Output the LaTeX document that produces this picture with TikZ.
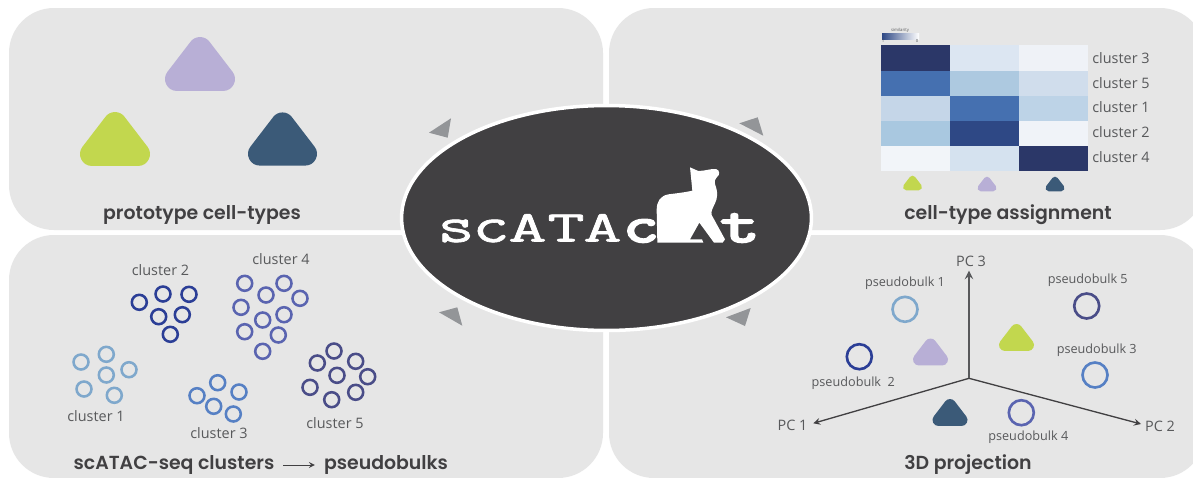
\documentclass[tikz,border=0pt]{standalone}
\usepackage{fontspec}
\usepackage{graphicx}
\usetikzlibrary{shapes.geometric}
\newfontfamily\labelfont{Open Sans}
\newfontfamily\titlefont{Poppins SemiBold}
\newfontfamily\logolight{Latin Modern Mono}[FakeBold=1.2]
\newfontfamily\logoheavy{Latin Modern Mono}[FakeBold=4]
\definecolor{panelgray}{HTML}{E6E6E6}
\definecolor{hubdark}{HTML}{414042}
\definecolor{labelgray}{HTML}{58595B}
\definecolor{wedgegray}{HTML}{939598}
\definecolor{protolilac}{HTML}{B8AFD6}
\definecolor{protogreen}{HTML}{C2D74E}
\definecolor{protoblue}{HTML}{3B5A78}
\definecolor{clusterone}{HTML}{7FA8CC}
\definecolor{clustertwo}{HTML}{2B3E96}
\definecolor{clusterthree}{HTML}{5680C4}
\definecolor{clusterfour}{HTML}{5A64B0}
\definecolor{clusterfive}{HTML}{4A4D88}
\definecolor{simA}{HTML}{2B3768}
\definecolor{simB}{HTML}{DCE6F2}
\definecolor{simC}{HTML}{EFF2F7}
\definecolor{simD}{HTML}{4570B0}
\definecolor{simE}{HTML}{ADC9E0}
\definecolor{simF}{HTML}{D0DDEC}
\definecolor{simG}{HTML}{C5D6E8}
\definecolor{simH}{HTML}{BDD3E7}
\definecolor{simI}{HTML}{A9C8E0}
\definecolor{simJ}{HTML}{2E4885}
\definecolor{simK}{HTML}{F0F3F8}
\definecolor{simL}{HTML}{F2F5F9}
\definecolor{simM}{HTML}{D5E2EF}
\tikzset{
  panel/.style={fill=panelgray,rounded corners=0.9cm},
  hub/.style={ellipse,draw=white,fill=hubdark,line width=2pt,inner sep=0pt,
    minimum width=8.2cm,minimum height=4.5cm},
  wedge/.style={fill=wedgegray},
  paneltitle/.style={font=\titlefont\fontsize{10.75}{12}\selectfont,text=hubdark,inner sep=0pt},
  clusterlabel/.style={font=\labelfont\fontsize{8.2}{9}\selectfont,text=labelgray,inner sep=0pt},
  bulklabel/.style={font=\labelfont\fontsize{7.2}{8}\selectfont,text=labelgray,inner sep=0pt},
  cellring/.style={circle,line width=1.45pt,minimum size=0.3cm,inner sep=0pt},
  bulkring/.style={circle,line width=1.5pt,minimum size=0.5cm,inner sep=0pt},
  logochar/.style={anchor=base,text=white,inner sep=0pt},
}
% rounded triangle: centre x, centre y, width in pixels, colour
\newcommand{\prototype}[4]{%
  \filldraw[#4,line join=round,line width=#3*0.0068cm]
    (#1-0.33*#3,#2+0.215*#3) -- (#1+0.33*#3,#2+0.215*#3) -- (#1,#2-0.215*#3) -- cycle;}
\begin{document}
\begin{tikzpicture}[x=0.02cm,y=-0.02cm,>=stealth]
  \fill[white] (0,0) rectangle (1193,477);
  \clip (0,0) rectangle (1193,477);
  % Panels
  \fill[panel] (9,8) rectangle (603,230);
  \fill[panel] (609,8) rectangle (1205,230);
  \fill[panel] (9,235) rectangle (603,478);
  \fill[panel] (609,235) rectangle (1205,478);
  % Prototype cell-types
  \prototype{200}{64}{70}{protolilac}
  \prototype{115}{139}{70}{protogreen}
  \prototype{282.5}{139}{69}{protoblue}
  \node[paneltitle] (prototitle) at (202,215) {prototype cell-types};
  % Heatmap
  \foreach \ya/\yb/\shadeA/\shadeB/\shadeC in {45/70.5/simA/simB/simC,71/96/simD/simE/simF,96/121/simG/simD/simH,121/146/simI/simJ/simK,146/171/simL/simM/simA} {
    \fill[\shadeA] (880.5,\ya) rectangle (949.5,\yb);
    \fill[\shadeB] (949.5,\ya) rectangle (1019,\yb);
    \fill[\shadeC] (1019,\ya) rectangle (1088,\yb);
  }
  \foreach \name/\ypos in {3/58,5/83,1/107.5,2/132.5,4/157} {
    \node[clusterlabel,anchor=west] (row\name) at (1092,\ypos) {cluster \name};
  }
  \shade[left color=simJ,right color=white] (882,33) rectangle (919,39);
  \node[inner sep=0pt,text=labelgray,font=\labelfont\fontsize{2.4}{3}\selectfont] (simtitle) at (900,30.5) {similarity};
  \node[inner sep=0pt,text=labelgray,font=\labelfont\fontsize{2.4}{3}\selectfont] (simhigh) at (883,41) {1};
  \node[inner sep=0pt,text=labelgray,font=\labelfont\fontsize{2.4}{3}\selectfont] (simlow) at (917,41) {0};
  \prototype{912.5}{183}{19}{protogreen}
  \prototype{987}{184}{19}{protolilac}
  \prototype{1055}{184}{19}{protoblue}
  \node[paneltitle] (assigntitle) at (1008,215) {cell-type assignment};
  % Clusters
  \foreach \cx/\cy [count=\i] in {81/362,106.3/354.3,129/369.7,106.3/375,84/389,114.3/395.3} {
    \node[cellring,draw=clusterone] (one\i) at (\cx,\cy) {};
  }
  \foreach \cx/\cy [count=\i] in {139.3/302.3,163/294,189/294.3,158.7/316.7,182.3/314.7,170.3/334.3} {
    \node[cellring,draw=clustertwo] (two\i) at (\cx,\cy) {};
  }
  \foreach \cx/\cy [count=\i] in {217.7/382.7,239/392,197/395.7,213.7/406.3,233.3/414} {
    \node[cellring,draw=clusterthree] (three\i) at (\cx,\cy) {};
  }
  \foreach \cx/\cy [count=\i] in {244.7/283.3,284/283.3,266/295,300/298.3,241/307.3,262.7/320,284/314.7,244.7/331.7,278.3/335,262.7/351.3} {
    \node[cellring,draw=clusterfour] (four\i) at (\cx,\cy) {};
  }
  \foreach \cx/\cy [count=\i] in {334/351,317.3/363,355.7/361.3,337/375.3,367.7/376.7,310/387.3,355.7/392.3,331.7/399.7} {
    \node[cellring,draw=clusterfive] (five\i) at (\cx,\cy) {};
  }
  \node[clusterlabel] (labelone) at (96,416) {cluster 1};
  \node[clusterlabel] (labeltwo) at (160.5,270.5) {cluster 2};
  \node[clusterlabel] (labelthree) at (219,433) {cluster 3};
  \node[clusterlabel] (labelfour) at (281,259.5) {cluster 4};
  \node[clusterlabel] (labelfive) at (335,423) {cluster 5};
  \node[paneltitle] (clustertitle) at (174,465) {scATAC-seq clusters};
  \node[paneltitle] (bulktitle) at (386,465) {pseudobulks};
  \draw[->,hubdark,line width=0.5pt,shorten <=5pt,shorten >=5pt] (clustertitle) -- (bulktitle);
  % 3D projection
  \coordinate (origin) at (969,378.3);
  \coordinate (tipone) at (813.3,423.3);
  \coordinate (tiptwo) at (1141,424);
  \coordinate (tipthree) at (969,270.7);
  \draw[->,hubdark,line width=0.75pt] (origin) -- (tipone);
  \draw[->,hubdark,line width=0.75pt] (origin) -- (tiptwo);
  \draw[->,labelgray,line width=1.1pt] (origin) -- (tipthree);
  \node[clusterlabel] (pcone) at (792.5,425.5) {PC 1};
  \node[clusterlabel] (pctwo) at (1160,426.5) {PC 2};
  \node[clusterlabel] (pcthree) at (971,261) {PC 3};
  \prototype{930.5}{352}{35}{protolilac}
  \prototype{1016.5}{337.5}{35}{protogreen}
  \prototype{950}{412.5}{35}{protoblue}
  \node[bulkring,draw=clusterone] (bulkone) at (905,309.3) {};
  \node[bulkring,draw=clustertwo] (bulktwo) at (859.3,356.7) {};
  \node[bulkring,draw=clusterthree] (bulkthree) at (1095,375) {};
  \node[bulkring,draw=clusterfour] (bulkfour) at (1021.3,412.7) {};
  \node[bulkring,draw=clusterfive] (bulkfive) at (1086.7,306) {};
  \node[bulklabel] (namedone) at (905,283.3) {pseudobulk 1};
  \node[bulklabel] (namedtwo) at (853.3,383.7) {pseudobulk\ \ 2};
  \node[bulklabel] (namedthree) at (1096.7,350) {pseudobulk 3};
  \node[bulklabel] (namedfour) at (1028.3,437.7) {pseudobulk 4};
  \node[bulklabel] (namedfive) at (1087.7,280.7) {pseudobulk 5};
  \node[paneltitle] (projtitle) at (968,465) {3D projection};
  % Centre
  \node[hub] (hubnode) at (606.5,218) {};
  \fill[wedge] (451,118.3) -- (429,132.7) -- (447.7,137.7) -- cycle;
  \fill[wedge] (739.3,123.3) -- (757.7,117.3) -- (763.3,135.7) -- cycle;
  \fill[wedge] (439,312.3) -- (457.3,307.3) -- (462.3,325.7) -- cycle;
  \fill[wedge] (726,317.3) -- (750.7,308) -- (745,326) -- cycle;
  % Logo
  \foreach \letter/\xpos/\stretch in {s/456/1.4,c/491/1.4} {
    \node[logochar,font=\logolight\fontsize{29}{30}\selectfont] (logo\letter) at (\xpos,242) {\scalebox{\stretch}[1]{\letter}};
  }
  \foreach \letter/\xpos/\stretch [count=\i] in {A/527.5/1.7,T/566/1.65,A/602.5/1.7} {
    \node[logochar,font=\logolight\fontsize{25}{26}\selectfont] (logocap\i) at (\xpos,241.5) {\scalebox{\stretch}[1]{\letter}};
  }
  \node[logochar,font=\logoheavy\fontsize{29}{30}\selectfont] (logoc) at (641,242) {\scalebox{1.35}[1]{c}};
  \node[logochar,font=\logoheavy\fontsize{29}{30}\selectfont] (logot) at (740,242) {\scalebox{1.5}[1]{t}};
  \begin{scope}[shift={(640,160)},scale=1/3]
    \fill[white] (52,248) -- (50,150) .. controls (50,125) and (60,108) .. (85,103)
      .. controls (110,100) and (135,97) .. (157,92) -- (150,22) -- (175,33)
      .. controls (195,33) and (215,25) .. (228,27) .. controls (240,30) and (240,45) .. (232,50)
      .. controls (225,58) and (222,65) .. (225,72) .. controls (235,100) and (232,115) .. (225,130)
      .. controls (218,145) and (212,155) .. (215,165) -- (255,238) -- (248,248) -- (222,248)
      -- (178,188) -- (150,238) -- (186,238) -- (190,248) -- cycle;
  \end{scope}
\end{tikzpicture}
\end{document}
